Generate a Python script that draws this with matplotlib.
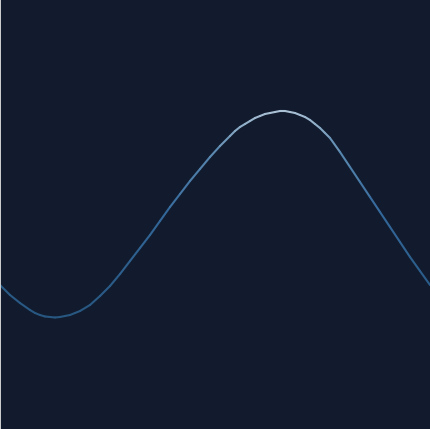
import numpy as np
import matplotlib
matplotlib.use('Agg')
import matplotlib.pyplot as plt
from matplotlib.collections import LineCollection
from matplotlib.colors import LinearSegmentedColormap
from matplotlib.patches import Rectangle

# curve (x position, pixel row from top)
xs = [0, 10, 20, 30, 35, 40, 45, 50, 55, 60, 65, 70, 75, 80, 90, 100, 110,
      120, 130, 140, 150, 160, 170, 180, 190, 200, 210, 220, 230, 235, 240,
      245, 250, 255, 260, 265, 270, 275, 280, 285, 290, 295, 300, 305, 310,
      315, 320, 325, 330, 340, 350, 360, 370, 380, 390, 400, 410, 420, 430]
py = [285, 295, 303, 310, 313, 315, 316.5, 317, 317.5, 317, 316, 315, 313,
      311, 305, 296, 286, 274, 261, 248, 235, 221, 207, 194, 181, 169, 157,
      146, 136, 131, 127, 124, 121, 118, 116, 114, 113, 112, 111, 111, 112,
      113, 115, 117, 120, 124, 128, 133, 138, 152, 167, 182, 197, 212, 227,
      242, 257, 271, 285]
ys = [429 - p for p in py]

bg = '#111b2d'
fig = plt.figure(figsize=(4.3, 4.29), dpi=100, facecolor=bg)
ax = fig.add_axes([0, 0, 1, 1])
ax.set_facecolor(bg)

x = np.array(xs, dtype=float)
y = np.array(ys, dtype=float)
pts = np.column_stack([x, y]).reshape(-1, 1, 2)
segs = np.concatenate([pts[:-1], pts[1:]], axis=1)

cmap = LinearSegmentedColormap.from_list(
    'glow', [(0, '#275680'), (0.5, '#33679a'), (0.8, '#5a88b0'), (1, '#aac0d4')])
mid = (y[:-1] + y[1:]) / 2
lc = LineCollection(segs, cmap=cmap, norm=plt.Normalize(y.min(), y.max()),
                    linewidth=1.5, capstyle='round', joinstyle='round')
lc.set_array(mid)
ax.add_collection(lc)

ax.set_xlim(0, 430)
ax.set_ylim(0, 429)
ax.axis('off')

# thin light strip on the left edge
fig.patches.append(Rectangle((0, 0), 1.2 / 430, 1, transform=fig.transFigure,
                             facecolor='#c9cbce', edgecolor='none'))

fig.savefig('out.png', dpi=100, facecolor=bg)
